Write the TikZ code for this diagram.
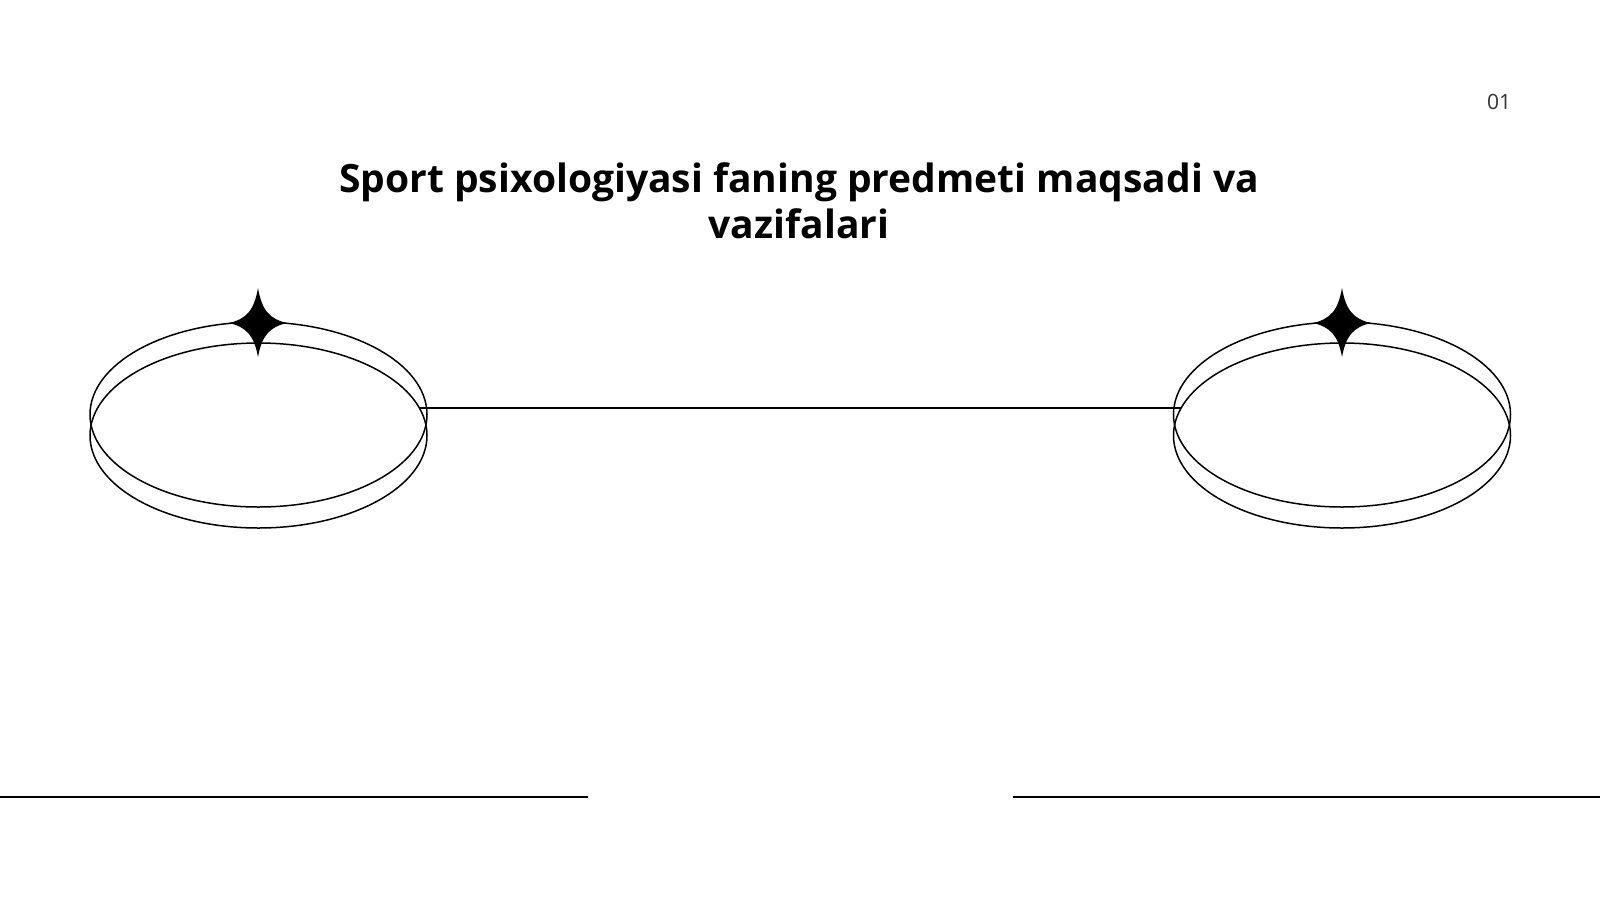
\documentclass[tikz,border=0pt]{standalone}
\usepackage{fontspec}
\setmainfont{Open Sans}
\usetikzlibrary{shapes.geometric,calc}
\definecolor{numgray}{RGB}{50,50,50}
\tikzset{
  ring/.style={draw=black, line width=1.5pt, ellipse, inner sep=0pt, minimum width=337pt, minimum height=185pt},
  thin/.style={draw=black, line width=1.5pt},
  sparkle/.style={fill=black},
  title/.style={font=\fontsize{39}{46}\selectfont\bfseries, align=center, text=black},
  pagenum/.style={font=\fontsize{21}{24}\selectfont, text=numgray}
}
\newcommand{\mysparkle}[1]{%
  \fill[sparkle] ($(#1)+(0,-35)$) .. controls ($(#1)+(4,-12)$) and ($(#1)+(12,-4)$) .. ($(#1)+(29,0)$)
    .. controls ($(#1)+(12,4)$) and ($(#1)+(4,12)$) .. ($(#1)+(0,34)$)
    .. controls ($(#1)+(-4,12)$) and ($(#1)+(-12,4)$) .. ($(#1)+(-29,0)$)
    .. controls ($(#1)+(-12,-4)$) and ($(#1)+(-4,-12)$) .. cycle;}
\begin{document}
\begin{tikzpicture}[x=1pt,y=-1pt]
\useasboundingbox[fill=white] (0,0) rectangle (1600,900);
% title
\node[title] (t) at (799,201) {Sport psixologiyasi faning predmeti maqsadi va\\vazifalari};
\node[pagenum] (n) at (1499,102) {01};
% left rings
\node[ring] (lu) at (258.5,414.5) {};
\node[ring] (ll) at (258.5,435.5) {};
\coordinate (ls) at (258,323);
\mysparkle{ls}
% right rings
\node[ring] (ru) at (1342,414.5) {};
\node[ring] (rl) at (1342,435.5) {};
\coordinate (rs) at (1342,323);
\mysparkle{rs}
% connector
\coordinate (ca) at (419,408);
\coordinate (cb) at (1181,408);
\draw[thin] (ca) -- (cb);
% bottom lines
\coordinate (b1) at (0,797);
\coordinate (b2) at (588,797);
\coordinate (b3) at (1013,797);
\coordinate (b4) at (1600,797);
\draw[thin] (b1) -- (b2);
\draw[thin] (b3) -- (b4);
\end{tikzpicture}
\end{document}
